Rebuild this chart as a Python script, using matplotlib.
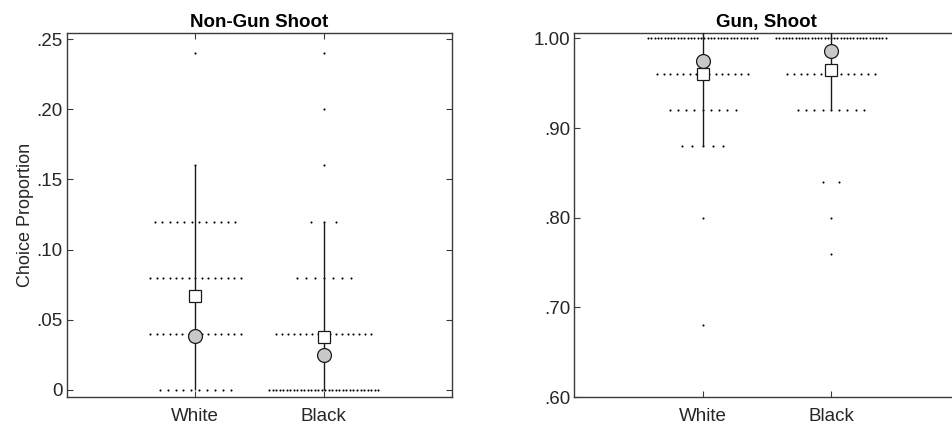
import numpy as np
import matplotlib
matplotlib.use("Agg")
import matplotlib.pyplot as plt

plt.rcParams['font.family'] = ['Liberation Sans', 'DejaVu Sans']

groups = ["White", "Black"]

# Non-Gun, Shoot: choice proportion values and how many participants sit at each
ng_white_vals = [0.00, 0.04, 0.08, 0.12, 0.16, 0.24]
ng_white_counts = [10, 15, 15, 12, 1, 1]
ng_black_vals = [0.00, 0.04, 0.08, 0.12, 0.16, 0.20, 0.24]
ng_black_counts = [32, 17, 7, 3, 1, 1, 1]
ng_square = [0.067, 0.0375]
ng_circle = [0.0385, 0.025]
ng_lo = [0.00, 0.00]
ng_hi = [0.16, 0.12]

# Gun, Shoot
g_white_vals = [1.00, 0.96, 0.92, 0.88, 0.80, 0.68]
g_white_counts = [34, 15, 9, 5, 1, 1]
g_black_vals = [1.00, 0.96, 0.92, 0.84, 0.80, 0.76]
g_black_counts = [35, 14, 9, 2, 1, 1]
g_square = [0.960, 0.965]
g_circle = [0.975, 0.986]
g_lo = [0.88, 0.92]
g_hi = [1.01, 1.01]

ng_ticks = [0, 0.05, 0.10, 0.15, 0.20, 0.25]
ng_ticklabels = ["0", ".05", ".10", ".15", ".20", ".25"]
g_ticks = [0.60, 0.70, 0.80, 0.90, 1.00]
g_ticklabels = [".60", ".70", ".80", ".90", "1.00"]

edge = "#3a3a3a"
txt = "#262626"
fs = 13.5


def spread_dots(ax, center, vals, counts):
    for v, n in zip(vals, counts):
        if n == 1:
            xs = np.array([center])
        else:
            w = 0.86 * np.tanh(n / 13.0)
            xs = center + np.linspace(-w / 2, w / 2, n)
        ax.plot(xs, np.full(n, v), linestyle="none", marker="o",
                markersize=1.5, color="black", markeredgewidth=0)


def panel(ax, title, data, square, circle, lo, hi, ylim, ticks, labels):
    for i, (vals, counts) in enumerate(data):
        spread_dots(ax, i + 1, vals, counts)
    x = np.arange(1, len(groups) + 1)
    ax.vlines(x, lo, hi, color="#1a1a1a", linewidth=1.0, zorder=3)
    ax.plot(x, square, linestyle="none", marker="s", markersize=8,
            markerfacecolor="white", markeredgecolor="#1a1a1a",
            markeredgewidth=0.9, zorder=4)
    ax.plot(x, circle, linestyle="none", marker="o", markersize=10,
            markerfacecolor="#c8c8c8", markeredgecolor="#1a1a1a",
            markeredgewidth=0.9, zorder=5)
    ax.set_xlim(0, 3)
    ax.set_ylim(*ylim)
    ax.set_xticks(x)
    ax.set_xticklabels(groups)
    ax.set_yticks(ticks)
    ax.set_yticklabels(labels)
    ax.tick_params(direction="in", top=True, right=True, length=4,
                   width=0.8, color=edge, labelcolor=txt, labelsize=fs)
    ax.tick_params(axis="x", pad=8)
    ax.tick_params(axis="y", pad=3)
    for s in ax.spines.values():
        s.set_color(edge)
        s.set_linewidth(1.0)
    ax.set_title(title, fontsize=fs, fontweight="bold", pad=4)


fig = plt.figure(figsize=(9.53, 4.30), dpi=100)
ax1 = fig.add_axes([0.0703, 0.0767, 0.404, 0.8466])
ax2 = fig.add_axes([0.6026, 0.0767, 0.404, 0.8466])

panel(ax1, "Non-Gun Shoot",
      [(ng_white_vals, ng_white_counts), (ng_black_vals, ng_black_counts)],
      ng_square, ng_circle, ng_lo, ng_hi, (-0.005, 0.2543),
      ng_ticks, ng_ticklabels)
ax1.set_ylabel("Choice Proportion", fontsize=13, color=txt, labelpad=2)

panel(ax2, "Gun, Shoot",
      [(g_white_vals, g_white_counts), (g_black_vals, g_black_counts)],
      g_square, g_circle, g_lo, g_hi, (0.60, 1.006),
      g_ticks, g_ticklabels)

fig.savefig("out.png", dpi=100)
